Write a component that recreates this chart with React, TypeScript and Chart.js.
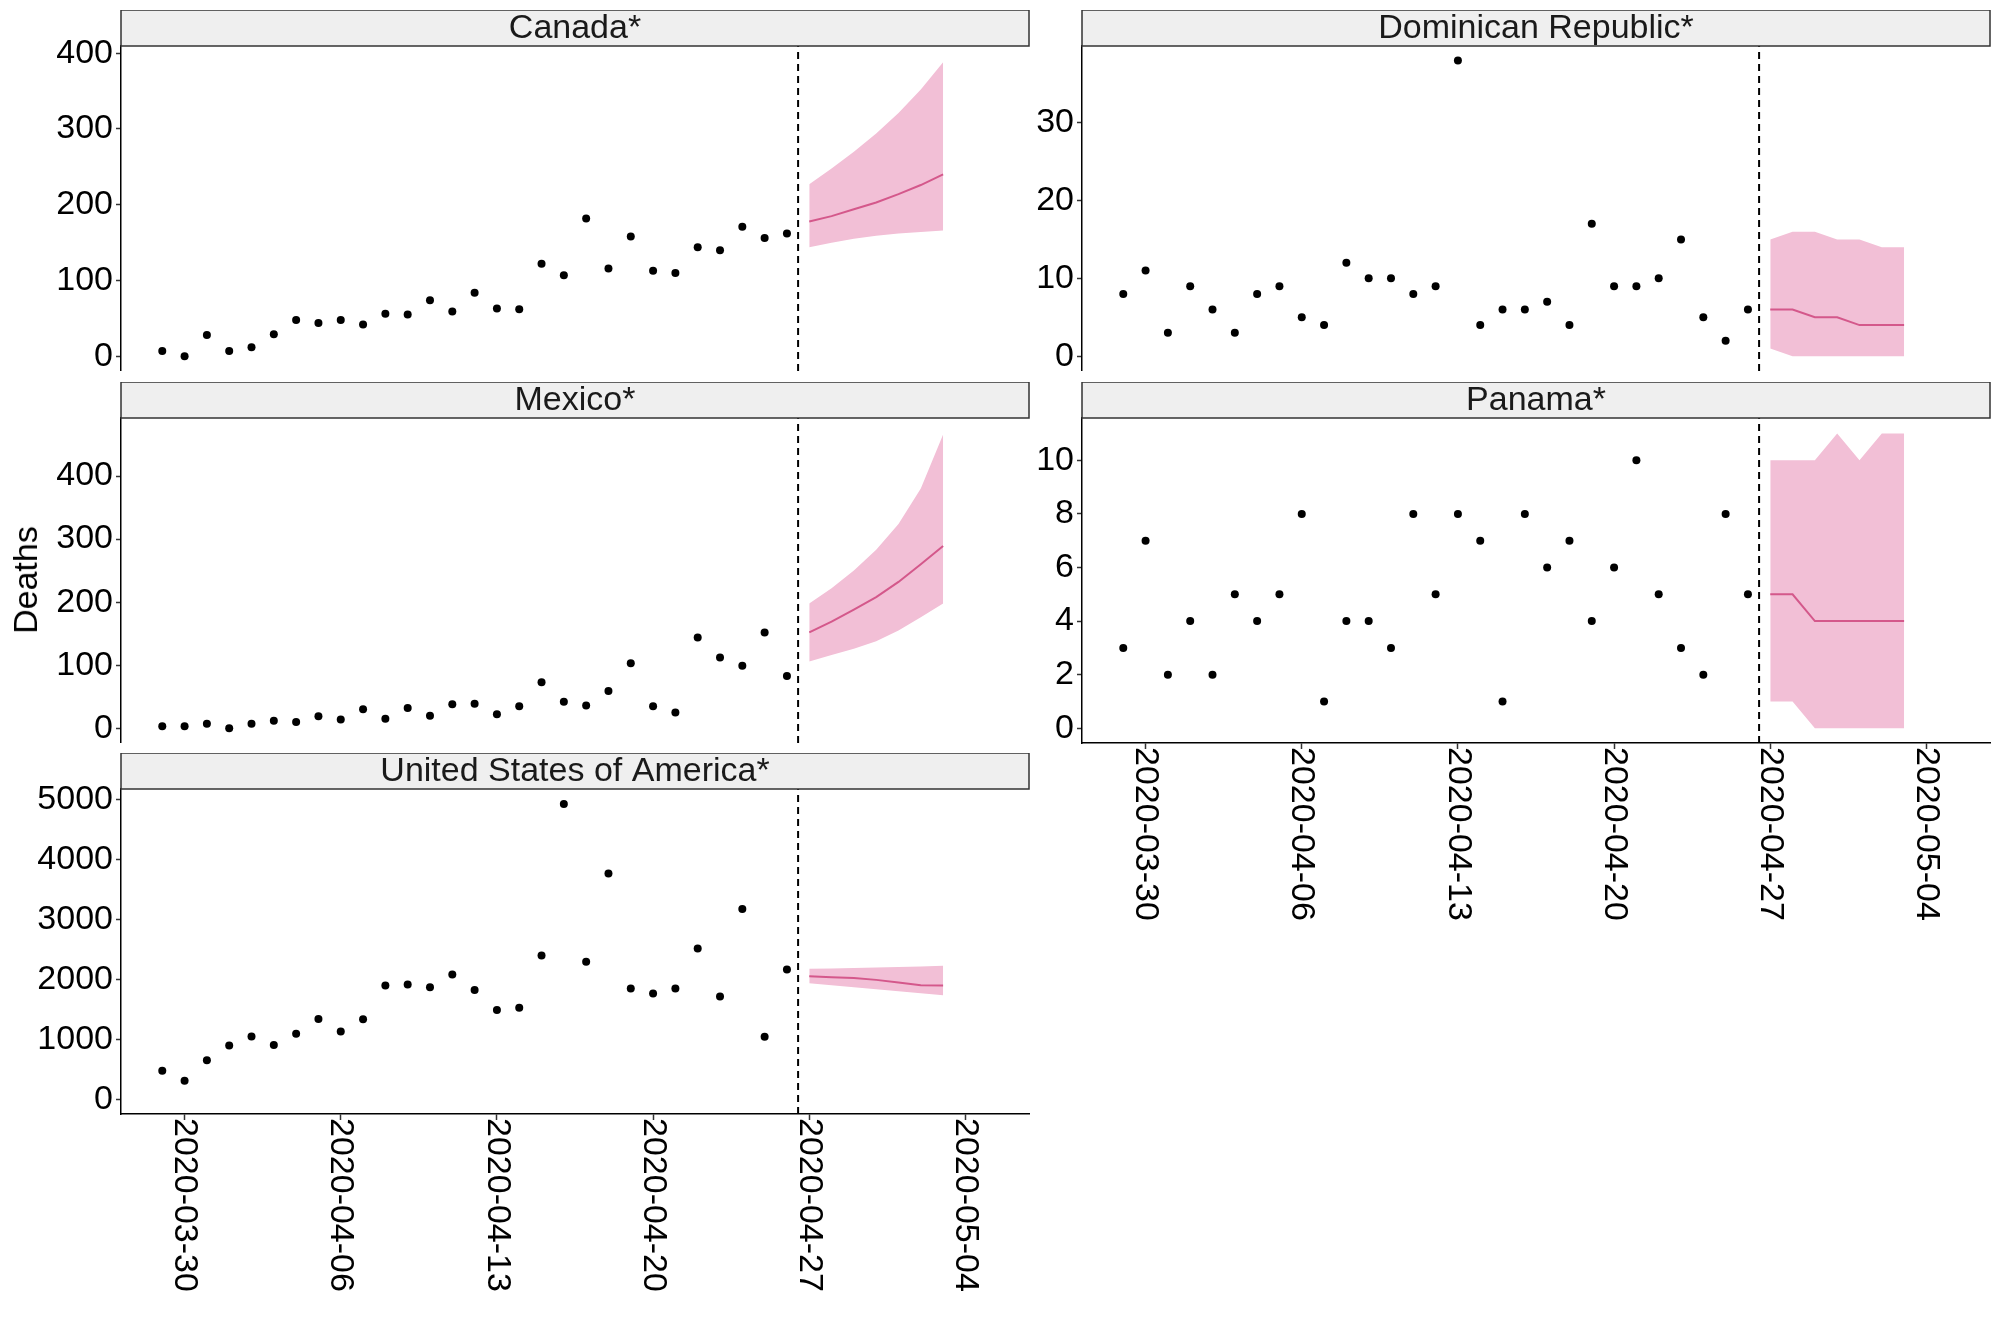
import React, { useEffect, useRef } from 'react';
import { Chart, registerables } from 'chart.js';

Chart.register(...registerables);

const FONT = '"Liberation Sans", Arial, Helvetica, sans-serif';
const FONT_SIZE = 34;
const RIBBON = '#F2BFD6';
const MEAN_LINE = '#D4588B';

// ---- dates ----
const obsDates = [
  '2020-03-29', '2020-03-30', '2020-03-31', '2020-04-01', '2020-04-02', '2020-04-03',
  '2020-04-04', '2020-04-05', '2020-04-06', '2020-04-07', '2020-04-08', '2020-04-09',
  '2020-04-10', '2020-04-11', '2020-04-12', '2020-04-13', '2020-04-14', '2020-04-15',
  '2020-04-16', '2020-04-17', '2020-04-18', '2020-04-19', '2020-04-20', '2020-04-21',
  '2020-04-22', '2020-04-23', '2020-04-24', '2020-04-25', '2020-04-26',
];
const forecastDates = [
  '2020-04-27', '2020-04-28', '2020-04-29', '2020-04-30', '2020-05-01', '2020-05-02', '2020-05-03',
];
const xTickDates = ['2020-03-30', '2020-04-06', '2020-04-13', '2020-04-20', '2020-04-27', '2020-05-04'];
const cutoffDate = '2020-04-26T12:00:00Z';
const X_MIN = -2.85;
const X_MAX = 37.85;

// ---- Canada ----
const canadaObserved = [7, 0, 28, 7, 12, 29, 48, 44, 48, 42, 56, 55, 74, 59, 84, 63, 62, 122, 107, 182, 116, 158, 113, 110, 144, 140, 171, 156, 162];
const canadaMean = [178, 185, 194, 203, 214, 226, 240];
const canadaLower = [144, 150, 155, 159, 162, 164, 166];
const canadaUpper = [227, 248, 270, 294, 321, 352, 388];
const canadaTicks = [0, 100, 200, 300, 400];

// ---- Dominican Republic ----
const drObserved = [8, 11, 3, 9, 6, 3, 8, 9, 5, 4, 12, 10, 10, 8, 9, 38, 4, 6, 6, 7, 4, 17, 9, 9, 10, 15, 5, 2, 6];
const drMean = [6, 6, 5, 5, 4, 4, 4];
const drLower = [1, 0, 0, 0, 0, 0, 0];
const drUpper = [15, 16, 16, 15, 15, 14, 14];
const drTicks = [0, 10, 20, 30];

// ---- Mexico ----
const mexicoObserved = [3, 3, 7, 0, 7, 12, 10, 19, 14, 30, 15, 32, 20, 38, 39, 22, 35, 73, 42, 36, 59, 103, 35, 25, 144, 112, 99, 152, 83];
const mexicoMean = [152, 169, 188, 208, 232, 260, 289];
const mexicoLower = [106, 116, 126, 138, 155, 176, 198];
const mexicoUpper = [198, 222, 250, 283, 324, 380, 466];
const mexicoTicks = [0, 100, 200, 300, 400];

// ---- Panama ----
const panamaObserved = [3, 7, 2, 4, 2, 5, 4, 5, 8, 1, 4, 4, 3, 8, 5, 8, 7, 1, 8, 6, 7, 4, 6, 10, 5, 3, 2, 8, 5];
const panamaMean = [5, 5, 4, 4, 4, 4, 4];
const panamaLower = [1, 1, 0, 0, 0, 0, 0];
const panamaUpper = [10, 10, 10, 11, 10, 11, 11];
const panamaTicks = [0, 2, 4, 6, 8, 10];

// ---- United States of America ----
const usObserved = [484, 317, 662, 907, 1057, 912, 1101, 1346, 1140, 1340, 1902, 1919, 1874, 2086, 1830, 1496, 1535, 2403, 4922, 2297, 3765, 1852, 1769, 1852, 2519, 1719, 3176, 1051, 2169];
const usMean = [2057, 2041, 2030, 1997, 1952, 1907, 1902];
const usLower = [1941, 1908, 1874, 1841, 1807, 1774, 1740];
const usUpper = [2180, 2188, 2196, 2204, 2212, 2220, 2230];
const usTicks = [0, 1000, 2000, 3000, 4000, 5000];

const BASE = Date.parse('2020-03-30T00:00:00Z');
const toDay = (s: string) => (Date.parse(s.length === 10 ? s + 'T00:00:00Z' : s) - BASE) / 86400000;

type Panel = {
  title: string;
  obs: number[];
  mean: number[];
  lower: number[];
  upper: number[];
  ticks: number[];
  yMin: number;
  yMax: number;
  col: number; // 0 left, 1 right
  top: number; // strip top
  showX: boolean;
};

const STRIP_H = 36;
const PLOT_H = 325;
const X_AXIS_H = 200;

const panels: Panel[] = [
  { title: 'Canada*', obs: canadaObserved, mean: canadaMean, lower: canadaLower, upper: canadaUpper, ticks: canadaTicks, yMin: -19.4, yMax: 409.5, col: 0, top: 10, showX: false },
  { title: 'Dominican Republic*', obs: drObserved, mean: drMean, lower: drLower, upper: drUpper, ticks: drTicks, yMin: -1.9, yMax: 39.85, col: 1, top: 10, showX: false },
  { title: 'Mexico*', obs: mexicoObserved, mean: mexicoMean, lower: mexicoLower, upper: mexicoUpper, ticks: mexicoTicks, yMin: -23.4, yMax: 492, col: 0, top: 382, showX: false },
  { title: 'Panama*', obs: panamaObserved, mean: panamaMean, lower: panamaLower, upper: panamaUpper, ticks: panamaTicks, yMin: -0.55, yMax: 11.58, col: 1, top: 382, showX: true },
  { title: 'United States of America*', obs: usObserved, mean: usMean, lower: usLower, upper: usUpper, ticks: usTicks, yMin: -234, yMax: 5172, col: 0, top: 753, showX: true },
];

const COLS = [
  { left: 0, width: 1040, yAxisW: 121, padRight: 11 },
  { left: 1002, width: 998, yAxisW: 80, padRight: 10 },
];

function PanelChart({ p }: { p: Panel }) {
  const ref = useRef<HTMLCanvasElement | null>(null);
  const col = COLS[p.col];
  const height = STRIP_H + PLOT_H + (p.showX ? X_AXIS_H : 0);

  useEffect(() => {
    const canvas = ref.current;
    if (!canvas) return;
    const obsPts = obsDates.map((d, i) => ({ x: toDay(d), y: p.obs[i] }));
    const meanPts = forecastDates.map((d, i) => ({ x: toDay(d), y: p.mean[i] }));
    const lowPts = forecastDates.map((d, i) => ({ x: toDay(d), y: p.lower[i] }));
    const upPts = forecastDates.map((d, i) => ({ x: toDay(d), y: p.upper[i] }));
    const cut = toDay(cutoffDate);
    const cutPts = [{ x: cut, y: p.yMin }, { x: cut, y: p.yMax }];

    const decorations = {
      id: 'decorations',
      afterDraw(chart: any) {
        const ctx = chart.ctx;
        const a = chart.chartArea;
        ctx.save();
        // strip
        ctx.fillStyle = '#EFEFEF';
        ctx.fillRect(a.left, a.top - STRIP_H, a.right - a.left, STRIP_H);
        ctx.strokeStyle = '#333333';
        ctx.lineWidth = 1.5;
        ctx.strokeRect(a.left, a.top - STRIP_H, a.right - a.left, STRIP_H);
        ctx.fillStyle = '#1A1A1A';
        ctx.font = `${FONT_SIZE}px ${FONT}`;
        ctx.textAlign = 'center';
        ctx.textBaseline = 'middle';
        ctx.fillText(p.title, (a.left + a.right) / 2, a.top - STRIP_H / 2 + 1);
        // rotated x tick labels (reading top to bottom)
        if (p.showX) {
          const s = chart.scales.x;
          ctx.fillStyle = '#000';
          ctx.textAlign = 'left';
          ctx.textBaseline = 'middle';
          s.ticks.forEach((t: any, i: number) => {
            const px = s.getPixelForValue(t.value);
            ctx.save();
            ctx.translate(px, s.top + 4);
            ctx.rotate(Math.PI / 2);
            ctx.fillText(xTickDates[i], 0, 0);
            ctx.restore();
          });
        }
        ctx.restore();
      },
    };

    const chart = new Chart(canvas, {
      type: 'line',
      data: {
        datasets: [
          { data: obsPts, showLine: false, pointRadius: 4, pointBackgroundColor: '#000', pointBorderColor: '#000', pointBorderWidth: 0, borderColor: '#000' } as any,
          { data: cutPts, borderColor: '#000', borderWidth: 2, borderDash: [7, 5], pointRadius: 0, fill: false } as any,
          { data: meanPts, borderColor: MEAN_LINE, borderWidth: 2, pointRadius: 0, fill: false } as any,
          { data: upPts, borderColor: 'rgba(0,0,0,0)', borderWidth: 0, backgroundColor: RIBBON, pointRadius: 0, fill: '+1' } as any,
          { data: lowPts, borderColor: 'rgba(0,0,0,0)', borderWidth: 0, pointRadius: 0, fill: false } as any,
        ],
      },
      options: {
        animation: false,
        responsive: false,
        layout: { autoPadding: false, padding: { top: STRIP_H, right: col.padRight, bottom: 0, left: 0 } },
        plugins: { legend: { display: false }, tooltip: { enabled: false } },
        scales: {
          x: {
            type: 'linear',
            min: X_MIN,
            max: X_MAX,
            display: p.showX,
            afterBuildTicks: (s: any) => {
              s.ticks = xTickDates.map((d) => ({ value: toDay(d) }));
            },
            afterFit: (s: any) => {
              s.height = p.showX ? X_AXIS_H : 0;
              s.paddingLeft = 0;
              s.paddingRight = 0;
            },
            ticks: { display: false },
            grid: { drawOnChartArea: false, drawTicks: true, tickLength: 6, tickColor: '#333333', tickWidth: 1.5 },
            border: { display: true, color: '#000', width: 1.5 },
          },
          y: {
            type: 'linear',
            min: p.yMin,
            max: p.yMax,
            afterBuildTicks: (s: any) => {
              s.ticks = p.ticks.map((v) => ({ value: v }));
            },
            afterFit: (s: any) => {
              s.width = col.yAxisW;
              s.paddingTop = 0;
              s.paddingBottom = 0;
            },
            ticks: {
              font: { family: FONT, size: FONT_SIZE },
              color: '#000',
              padding: 3,
              autoSkip: false,
              callback: (v: any) => String(v),
            },
            grid: { drawOnChartArea: false, drawTicks: true, tickLength: 5, tickColor: '#333333', tickWidth: 1.5 },
            border: { display: true, color: '#000', width: 1.5 },
          },
        },
      } as any,
      plugins: [decorations],
    });
    return () => chart.destroy();
  }, [p]);

  return (
    <canvas
      ref={ref}
      width={col.width}
      height={height}
      style={{ position: 'absolute', left: col.left, top: p.top, width: col.width, height }}
    />
  );
}

export default function App() {
  useEffect(() => {
    document.body.style.margin = '0';
  }, []);
  return (
    <div style={{ position: 'relative', width: 2000, height: 1333, background: '#fff', overflow: 'hidden' }}>
      {panels.map((p) => (
        <PanelChart key={p.title} p={p} />
      ))}
      <div
        style={{
          position: 'absolute',
          left: 25,
          top: 580,
          transform: 'translate(-50%, -50%) rotate(-90deg)',
          fontFamily: FONT,
          fontSize: FONT_SIZE,
          color: '#000',
          whiteSpace: 'nowrap',
          lineHeight: 1,
        }}
      >
        Deaths
      </div>
    </div>
  );
}
